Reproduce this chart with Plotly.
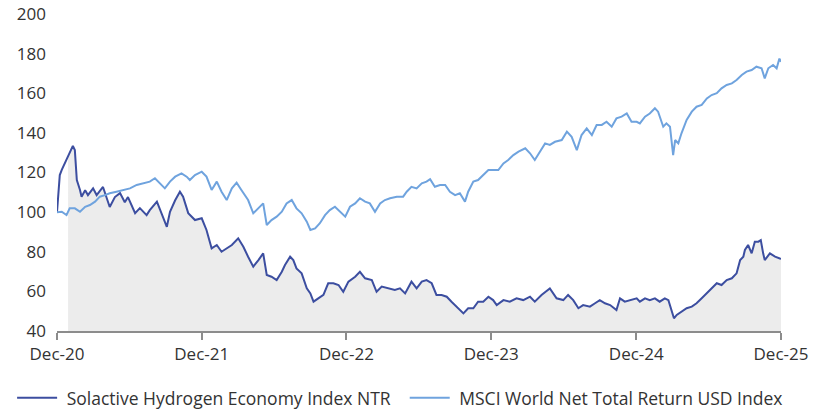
import plotly.graph_objects as go

# ---- Solactive Hydrogen Economy Index NTR ----
h2_dates = [
    "2020-12-31", "2021-01-07", "2021-01-12", "2021-01-20", "2021-01-28", "2021-02-09", "2021-02-14",
    "2021-02-19", "2021-02-27", "2021-03-03", "2021-03-12", "2021-03-19", "2021-04-01", "2021-04-10",
    "2021-04-26", "2021-05-05", "2021-05-13", "2021-05-26", "2021-06-08", "2021-06-20", "2021-06-28",
    "2021-07-16", "2021-07-28", "2021-08-14", "2021-08-22", "2021-09-09", "2021-09-21", "2021-10-04",
    "2021-10-12", "2021-10-25", "2021-11-06", "2021-11-14", "2021-11-27", "2021-12-14", "2021-12-31",
    "2022-01-12", "2022-01-25", "2022-02-07", "2022-02-19", "2022-03-04", "2022-03-17", "2022-04-02",
    "2022-04-15", "2022-04-27", "2022-05-10", "2022-05-23", "2022-06-04", "2022-06-13", "2022-06-25",
    "2022-07-08", "2022-07-21", "2022-07-29", "2022-08-11", "2022-08-19", "2022-08-27", "2022-09-09",
    "2022-09-22", "2022-10-01", "2022-10-09", "2022-10-21", "2022-11-03", "2022-11-15", "2022-11-28",
    "2022-12-11", "2022-12-23", "2023-01-05", "2023-01-22", "2023-02-03", "2023-02-16", "2023-03-05",
    "2023-03-17", "2023-03-30", "2023-04-15", "2023-05-02", "2023-05-15", "2023-05-28", "2023-06-13",
    "2023-06-26", "2023-07-09", "2023-07-21", "2023-08-03", "2023-08-15", "2023-08-28", "2023-09-10",
    "2023-09-22", "2023-10-05", "2023-10-22", "2023-11-03", "2023-11-16", "2023-11-28", "2023-12-11",
    "2023-12-24", "2024-01-05", "2024-01-14", "2024-01-31", "2024-02-16", "2024-03-04", "2024-03-21",
    "2024-04-07", "2024-04-19", "2024-05-06", "2024-05-27", "2024-06-13", "2024-06-30", "2024-07-12",
    "2024-07-25", "2024-08-07", "2024-08-19", "2024-09-05", "2024-09-18", "2024-09-30", "2024-10-13",
    "2024-10-26", "2024-11-11", "2024-11-20", "2024-12-02", "2024-12-19", "2025-01-01", "2025-01-09",
    "2025-01-22", "2025-02-03", "2025-02-16", "2025-02-28", "2025-03-13", "2025-03-22", "2025-03-30",
    "2025-04-05", "2025-04-12", "2025-04-24", "2025-05-07", "2025-05-20", "2025-06-01", "2025-06-14",
    "2025-06-27", "2025-07-09", "2025-07-22", "2025-08-03", "2025-08-16", "2025-08-29", "2025-09-10",
    "2025-09-19", "2025-09-27", "2025-10-01", "2025-10-09", "2025-10-18", "2025-10-26", "2025-11-04",
    "2025-11-10", "2025-11-16", "2025-11-20", "2025-12-03", "2025-12-16", "2025-12-28", "2025-12-31",
]
h2_values = [
    100.0, 118.7, 121.3, 124.8, 127.8, 133.4, 131.3,
    116.2, 111.2, 107.8, 111.0, 108.6, 112.0, 108.6,
    112.7, 107.0, 102.6, 107.6, 109.6, 105.0, 107.6,
    99.5, 102.0, 98.5, 101.0, 105.3, 99.5, 92.6,
    100.2, 106.0, 110.3, 107.8, 99.5, 96.0, 96.9,
    91.0, 81.7, 83.4, 80.0, 81.7, 83.4, 86.8,
    82.5, 77.5, 72.5, 75.8, 79.2, 68.3, 67.4,
    65.7, 69.9, 73.3, 77.5, 75.8, 71.6, 69.1,
    61.5, 59.0, 54.8, 56.5, 58.2, 64.1, 64.1,
    63.2, 59.8, 64.9, 67.4, 69.9, 66.6, 65.7,
    59.8, 62.4, 61.5, 60.7, 61.5, 59.0, 64.9,
    61.5, 64.9, 65.7, 64.1, 58.2, 58.2, 57.3,
    54.8, 52.3, 48.9, 51.5, 51.5, 54.8, 54.8,
    57.3, 55.6, 53.1, 55.6, 54.8, 56.5, 55.6,
    57.3, 54.8, 58.2, 61.5, 56.5, 55.6, 58.2,
    55.6, 51.5, 53.1, 52.3, 54.0, 55.6, 54.0,
    53.1, 50.6, 56.5, 54.8, 55.6, 56.5, 54.8,
    56.5, 55.6, 56.5, 54.8, 56.5, 55.6, 50.6,
    46.4, 48.1, 49.8, 51.5, 52.3, 54.0, 56.5,
    59.0, 61.5, 64.1, 63.2, 65.7, 66.6, 69.1,
    75.8, 77.5, 80.9, 83.4, 79.2, 85.1, 85.1,
    85.9, 79.2, 75.8, 79.2, 77.5, 76.6, 76.5,
]

# ---- MSCI World Net Total Return USD Index ----
msci_dates = [
    "2020-12-31", "2021-01-12", "2021-01-24", "2021-02-01", "2021-02-14", "2021-02-27", "2021-03-12",
    "2021-03-24", "2021-04-06", "2021-04-18", "2021-05-01", "2021-05-13", "2021-05-30", "2021-06-16",
    "2021-07-03", "2021-07-20", "2021-08-05", "2021-08-22", "2021-09-04", "2021-09-17", "2021-09-29",
    "2021-10-12", "2021-10-25", "2021-11-10", "2021-11-23", "2021-12-01", "2021-12-14", "2021-12-31",
    "2022-01-12", "2022-01-25", "2022-02-07", "2022-02-19", "2022-03-04", "2022-03-17", "2022-03-29",
    "2022-04-10", "2022-04-27", "2022-05-10", "2022-05-23", "2022-06-04", "2022-06-13", "2022-06-25",
    "2022-07-08", "2022-07-21", "2022-08-02", "2022-08-15", "2022-08-27", "2022-09-09", "2022-09-22",
    "2022-10-01", "2022-10-13", "2022-10-25", "2022-11-07", "2022-11-19", "2022-12-02", "2022-12-15",
    "2022-12-28", "2023-01-09", "2023-01-22", "2023-02-03", "2023-02-16", "2023-02-28", "2023-03-13",
    "2023-03-26", "2023-04-07", "2023-04-20", "2023-05-07", "2023-05-23", "2023-06-01", "2023-06-13",
    "2023-06-26", "2023-07-09", "2023-07-21", "2023-07-30", "2023-08-11", "2023-08-24", "2023-09-06",
    "2023-09-18", "2023-10-01", "2023-10-13", "2023-10-26", "2023-11-03", "2023-11-16", "2023-11-28",
    "2023-12-11", "2023-12-24", "2024-01-05", "2024-01-18", "2024-01-31", "2024-02-12", "2024-02-25",
    "2024-03-09", "2024-03-26", "2024-04-07", "2024-04-19", "2024-05-02", "2024-05-15", "2024-05-27",
    "2024-06-09", "2024-06-26", "2024-07-09", "2024-07-21", "2024-08-03", "2024-08-15", "2024-08-28",
    "2024-09-10", "2024-09-22", "2024-10-05", "2024-10-17", "2024-10-30", "2024-11-11", "2024-11-24",
    "2024-12-07", "2024-12-19", "2025-01-01", "2025-01-09", "2025-01-22", "2025-02-03", "2025-02-16",
    "2025-02-24", "2025-03-09", "2025-03-17", "2025-03-26", "2025-04-03", "2025-04-08", "2025-04-16",
    "2025-04-24", "2025-05-07", "2025-05-20", "2025-06-01", "2025-06-14", "2025-06-27", "2025-07-09",
    "2025-07-22", "2025-08-03", "2025-08-16", "2025-08-29", "2025-09-10", "2025-09-23", "2025-10-05",
    "2025-10-18", "2025-10-30", "2025-11-12", "2025-11-20", "2025-11-29", "2025-12-11", "2025-12-20",
    "2025-12-27", "2025-12-31",
]
msci_values = [
    100.0, 100.2, 98.5, 101.9, 101.9, 100.2, 102.7,
    103.6, 105.3, 107.8, 108.6, 109.5, 110.3, 111.2,
    112.0, 113.7, 114.5, 115.4, 117.1, 114.5, 112.0,
    115.4, 117.9, 119.6, 117.9, 116.2, 118.7, 120.4,
    117.9, 111.2, 115.4, 110.3, 106.1, 112.0, 114.9,
    111.2, 106.1, 99.4, 101.9, 104.4, 93.5, 96.0,
    97.7, 100.2, 104.4, 106.1, 101.9, 99.4, 95.2,
    91.0, 91.8, 94.4, 98.5, 101.0, 102.7, 100.2,
    97.7, 102.7, 104.4, 107.0, 105.3, 104.4, 100.2,
    104.4, 106.1, 107.0, 107.8, 107.8, 110.3, 112.8,
    112.0, 114.5, 115.4, 116.6, 112.8, 113.7, 113.7,
    110.3, 108.6, 109.5, 105.3, 110.3, 115.4, 116.2,
    118.7, 121.2, 121.2, 121.2, 124.6, 126.3, 128.8,
    130.5, 132.2, 129.7, 126.3, 130.5, 134.7, 133.9,
    135.5, 136.4, 140.6, 138.0, 131.3, 138.9, 142.3,
    138.9, 144.0, 144.0, 145.6, 143.1, 147.3, 148.2,
    149.8, 145.6, 145.6, 144.8, 148.2, 149.8, 152.4,
    150.7, 143.1, 144.8, 143.1, 128.8, 136.4, 134.7,
    139.8, 146.5, 150.7, 153.2, 154.1, 157.4, 159.1,
    160.0, 162.5, 164.2, 165.0, 166.7, 169.2, 170.9,
    171.7, 173.4, 172.6, 167.5, 172.6, 174.3, 172.6,
    177.5, 175.9,
]

# ---- axis labels ----
x_tick_dates = ["2020-12-31", "2021-12-31", "2022-12-31", "2023-12-31", "2024-12-31", "2025-12-31"]
x_tick_labels = ["Dec-20", "Dec-21", "Dec-22", "Dec-23", "Dec-24", "Dec-25"]
y_ticks = [40, 60, 80, 100, 120, 140, 160, 180, 200]

series_names = ["Solactive Hydrogen Economy Index NTR", "MSCI World Net Total Return USD Index"]
fill_start = 4  # grey area begins a little after the start

DARK = "#3c4ea0"
LIGHT = "#6fa3de"
FONT = "Open Sans"
TXT = "#333333"
NB = "\u00a0"

fig = go.Figure()
fig.add_trace(go.Scatter(
    x=h2_dates[fill_start:], y=h2_values[fill_start:], mode="lines",
    line=dict(width=0), fill="tozeroy", fillcolor="#ececec",
    showlegend=False, hoverinfo="skip"))
fig.add_trace(go.Scatter(
    x=h2_dates, y=h2_values, mode="lines", name=NB + series_names[0] + NB * 2,
    line=dict(color=DARK, width=2)))
fig.add_trace(go.Scatter(
    x=msci_dates, y=msci_values, mode="lines", name=NB + series_names[1],
    line=dict(color=LIGHT, width=2)))

fig.update_layout(
    width=814, height=410,
    margin=dict(l=57, r=33, t=14, b=79, autoexpand=False),
    paper_bgcolor="white", plot_bgcolor="white",
    font=dict(family=FONT, size=17, color=TXT),
    showlegend=True,
    legend=dict(orientation="h", x=-0.062, xanchor="left",
                y=-0.211, yanchor="middle",
                font=dict(family=FONT, size=17.5, color=TXT),
                itemwidth=40, tracegroupgap=0),
)
fig.update_xaxes(
    type="date", range=["2020-12-31", "2025-12-31"], automargin=False,
    tickmode="array", tickvals=x_tick_dates, ticktext=x_tick_labels,
    showgrid=False, zeroline=False,
    showline=True, linecolor="#8c8c8c", linewidth=1.5,
    ticks="outside", ticklen=7, tickcolor="#8c8c8c", tickwidth=1.5,
    tickfont=dict(family=FONT, size=17, color=TXT),
)
fig.update_yaxes(
    range=[40, 200], tickmode="array", tickvals=y_ticks, automargin=False,
    showgrid=False, zeroline=False, showline=False,
    ticks="", ticklabelstandoff=10,
    tickfont=dict(family=FONT, size=17, color=TXT),
)

fig.write_html(
    "out.html",
    config={"displayModeBar": False},
    post_script="document.body.style.margin='0';document.body.style.overflow='hidden';",
)
